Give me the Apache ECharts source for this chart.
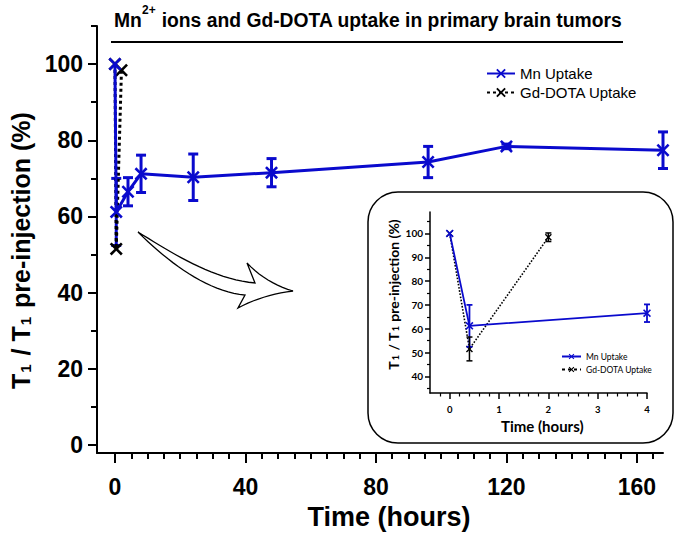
<!DOCTYPE html>
<html><head><meta charset="utf-8">
<script src="https://cdn.jsdelivr.net/npm/echarts@6/dist/echarts.min.js"></script>
<style>html,body{margin:0;padding:0;background:#fff}#c{width:675px;height:535px}</style>
</head><body><div id="c"></div>
<script>
// ---- data ----
const mnTime  = [0, 0.4, 4, 8, 24, 48, 96, 120, 168];
const mnValue = [100, 61.2, 66.5, 71.2, 70.3, 71.5, 74.3, 78.4, 77.4];
const mnError = [0, 8.8, 3.7, 4.9, 6.1, 3.7, 4.1, 0.6, 4.8];
const gdTime  = [0, 0.4, 2];
const gdValue = [100, 51.5, 98.4];
const gdError = [0, 5.0, 1.8];
const insetMaxTime = 4;

const mainXTicks = [0, 40, 80, 120, 160];
const mainXMinor = [5,10,15,20,25,30,35,45,50,55,60,65,70,75,85,90,95,100,105,110,115,125,130,135,140,145,150,155,165];
const mainYTicks = [0, 20, 40, 60, 80, 100];
const mainYMinor = [10, 30, 50, 70, 90, 110];
const insetXTicks = [0, 1, 2, 3, 4];
const insetXMinor = [-0.2,0.2,0.4,0.6,0.8,1.2,1.4,1.6,1.8,2.2,2.4,2.6,2.8,3.2,3.4,3.6,3.8];
const insetYTicks = [40, 50, 60, 70, 80, 90, 100];
const insetYMinor = [35, 45, 55, 65, 75, 85, 95, 105];

const BLUE = '#0a0acd';
const BLACK = '#000';
const XSYM = 'path://M0,1.4 L1.4,0 L5,3.6 L8.6,0 L10,1.4 L6.4,5 L10,8.6 L8.6,10 L5,6.4 L1.4,10 L0,8.6 L3.6,5 Z';
const ARIAL = '"Liberation Sans", Arial, sans-serif';
const LATO = 'Lato, "Open Sans", sans-serif';

function pts(t, v, maxT) {
  const out = [];
  for (let i = 0; i < t.length; i++) if (maxT === undefined || t[i] <= maxT) out.push([t[i], v[i]]);
  return out;
}
function errs(t, v, e, maxT) {
  const out = [];
  for (let i = 0; i < t.length; i++) {
    if (e[i] > 0 && (maxT === undefined || t[i] <= maxT)) out.push([t[i], v[i] - e[i], v[i] + e[i]]);
  }
  return out;
}
function errRender(color, lw, cap) {
  return function (params, api) {
    const x = api.value(0), lo = api.value(1), hi = api.value(2);
    const a = api.coord([x, lo]), b = api.coord([x, hi]);
    const st = { stroke: color, lineWidth: lw };
    return { type: 'group', children: [
      { type: 'line', shape: { x1: a[0], y1: a[1], x2: b[0], y2: b[1] }, style: st },
      { type: 'line', shape: { x1: a[0] - cap, y1: a[1], x2: a[0] + cap, y2: a[1] }, style: st },
      { type: 'line', shape: { x1: b[0] - cap, y1: b[1], x2: b[0] + cap, y2: b[1] }, style: st }
    ]};
  };
}
// decorative arrow outline (sampled bezier curves)
function bez(p0, c1, c2, p3, n, out) {
  for (let i = 0; i <= n; i++) {
    const t = i / n, u = 1 - t;
    out.push([u*u*u*p0[0] + 3*u*u*t*c1[0] + 3*u*t*t*c2[0] + t*t*t*p3[0],
              u*u*u*p0[1] + 3*u*u*t*c1[1] + 3*u*t*t*c2[1] + t*t*t*p3[1]]);
  }
}
function quad(p0, c, p2, n, out) {
  for (let i = 0; i <= n; i++) {
    const t = i / n, u = 1 - t;
    out.push([u*u*p0[0] + 2*u*t*c[0] + t*t*p2[0], u*u*p0[1] + 2*u*t*c[1] + t*t*p2[1]]);
  }
}
const arrowPts = [];
bez([138,232],[172,253],[212,279],[255,283], 20, arrowPts);
arrowPts.push([247,263]);
quad([247,263],[266,283],[293,291], 10, arrowPts);
quad([293,291],[262,295],[238,308], 10, arrowPts);
arrowPts.push([245,295]);
bez([245,295],[208,292],[168,262],[139,233], 20, arrowPts);

const chart = echarts.init(document.getElementById('c'), null, { renderer: 'svg' });

const axBase = { type: 'value', splitLine: { show: false } };
const titleFont = { fontFamily: ARIAL, fontWeight: 'bold', fill: '#000' };

const option = {
  backgroundColor: '#fff',
  animation: false,
  grid: [
    { left: 97, top: 26, width: 566, height: 430 },
    { left: 430, top: 212, width: 217, height: 181 }
  ],
  legend: [
    {
      data: ['Mn Uptake', 'Gd-DOTA Uptake'],
      orient: 'vertical', left: 481, top: 61,
      itemWidth: 28, itemHeight: 12, itemGap: 4,
      textStyle: { fontFamily: ARIAL, fontSize: 15, color: '#000' }
    },
    {
      data: ['Mn Uptake', 'Gd-DOTA Uptake'],
      orient: 'vertical', left: 556, top: 347,
      itemWidth: 19, itemHeight: 7, itemGap: 4,
      textStyle: { fontFamily: LATO, fontSize: 8.5, color: '#000' }
    }
  ],
  xAxis: [
    Object.assign({}, axBase, {
      gridIndex: 0, min: -5.5, max: 168,
      name: 'Time (hours)', nameLocation: 'middle', nameGap: 49,
      nameTextStyle: { fontFamily: ARIAL, fontWeight: 'bold', fontSize: 27, color: '#000', padding: [0, 0, 0, 18] },
      axisLine: { onZero: false, lineStyle: { color: '#000', width: 2 } },
      axisTick: { show: true, customValues: mainXTicks, length: 10, lineStyle: { color: '#000', width: 2 } },
      axisLabel: { customValues: mainXTicks, margin: 22, fontFamily: ARIAL, fontWeight: 'bold', fontSize: 23, color: '#000' }
    }),
    Object.assign({}, axBase, {
      gridIndex: 0, min: -5.5, max: 168, position: 'bottom',
      axisLine: { show: false, onZero: false },
      axisTick: { show: true, customValues: mainXMinor, length: 6, lineStyle: { color: '#000', width: 2 } },
      axisLabel: { show: false }
    }),
    Object.assign({}, axBase, {
      gridIndex: 1, min: -0.4, max: 4.0,
      axisLine: { onZero: false, lineStyle: { color: '#000', width: 1.5 } },
      axisTick: { show: true, customValues: insetXTicks, length: 6, lineStyle: { color: '#000', width: 1.5 } },
      axisLabel: { customValues: insetXTicks, margin: 11, fontFamily: LATO, fontWeight: 'bold', fontSize: 9.5, color: '#000' }
    }),
    Object.assign({}, axBase, {
      gridIndex: 1, min: -0.4, max: 4.0, position: 'bottom',
      axisLine: { show: false, onZero: false },
      axisTick: { show: true, customValues: insetXMinor, length: 3.5, lineStyle: { color: '#000', width: 1.2 } },
      axisLabel: { show: false }
    })
  ],
  yAxis: [
    Object.assign({}, axBase, {
      gridIndex: 0, min: -2.1, max: 110,
      name: 'T{s|1} / T{s|1} pre-injection (%)', nameLocation: 'middle', nameGap: 64, nameRotate: 90,
      nameTextStyle: {
        fontFamily: ARIAL, fontWeight: 'bold', fontSize: 25, color: '#000', padding: [0, 22, 0, 0],
        rich: { s: { fontFamily: ARIAL, fontWeight: 'bold', fontSize: 15, color: '#000', verticalAlign: 'bottom', lineHeight: 15, padding: [0, 2, 0, 1] } }
      },
      axisLine: { onZero: false, lineStyle: { color: '#000', width: 2 } },
      axisTick: { show: true, customValues: mainYTicks, length: 9, lineStyle: { color: '#000', width: 2 } },
      axisLabel: { customValues: mainYTicks, margin: 14, fontFamily: ARIAL, fontWeight: 'bold', fontSize: 23, color: '#000' }
    }),
    Object.assign({}, axBase, {
      gridIndex: 0, min: -2.1, max: 110, position: 'left',
      axisLine: { show: false, onZero: false },
      axisTick: { show: true, customValues: mainYMinor, length: 6, lineStyle: { color: '#000', width: 2 } },
      axisLabel: { show: false }
    }),
    Object.assign({}, axBase, {
      gridIndex: 1, min: 33, max: 109,
      name: 'T{s|1} / T{s|1} pre-injection (%)', nameLocation: 'middle', nameGap: 30, nameRotate: 90,
      nameTextStyle: {
        fontFamily: LATO, fontWeight: 'bold', fontSize: 14, color: '#000', padding: [0, 0, 0, 16],
        rich: { s: { fontFamily: LATO, fontWeight: 'bold', fontSize: 9, color: '#000', verticalAlign: 'bottom', lineHeight: 9, padding: [0, 1, 0, 1] } }
      },
      axisLine: { onZero: false, lineStyle: { color: '#000', width: 1.5 } },
      axisTick: { show: true, customValues: insetYTicks, length: 5, lineStyle: { color: '#000', width: 1.5 } },
      axisLabel: { customValues: insetYTicks, margin: 7, fontFamily: LATO, fontWeight: 'bold', fontSize: 10, color: '#000' }
    }),
    Object.assign({}, axBase, {
      gridIndex: 1, min: 33, max: 109, position: 'left',
      axisLine: { show: false, onZero: false },
      axisTick: { show: true, customValues: insetYMinor, length: 3, lineStyle: { color: '#000', width: 1.2 } },
      axisLabel: { show: false }
    })
  ],
  graphic: [
    { type: 'group', x: 114, y: 0, scaleX: 0.92, children: [
      { type: 'text', x: 0, y: 30, style: Object.assign({ text: 'Mn', fontSize: 21, verticalAlign: 'bottom' }, titleFont) },
      { type: 'text', x: 30.5, y: 3, style: Object.assign({ text: '2+', fontSize: 13, verticalAlign: 'top' }, titleFont) },
      { type: 'text', x: 46, y: 30, style: Object.assign({ text: ' ions and Gd-DOTA uptake in primary brain tumors', fontSize: 21, verticalAlign: 'bottom' }, titleFont) }
    ]},
    { type: 'line', shape: { x1: 111, y1: 42, x2: 623, y2: 42 }, style: { stroke: '#000', lineWidth: 2 } },
    { type: 'rect', shape: { x: 368, y: 192, width: 305, height: 251, r: 30 }, style: { fill: 'none', stroke: '#000', lineWidth: 1.5 }, z: -1 },
    { type: 'polygon', shape: { points: arrowPts }, style: { fill: '#fff', stroke: '#000', lineWidth: 1.3 } },
    { type: 'text', x: 501, y: 418, style: { text: 'Time (hours)', fontFamily: LATO, fontWeight: 'bold', fontSize: 15, fill: '#000' } }
  ],
  series: [
    {
      name: 'Mn error', type: 'custom', xAxisIndex: 0, yAxisIndex: 0, clip: false, z: 3,
      renderItem: errRender(BLUE, 3, 5), encode: { x: 0, y: [1, 2] },
      data: errs(mnTime, mnValue, mnError)
    },
    {
      name: 'Gd-DOTA Uptake', type: 'line', xAxisIndex: 0, yAxisIndex: 0, z: 4,
      data: pts(gdTime, gdValue),
      symbol: XSYM, symbolSize: 13,
      lineStyle: { color: BLACK, width: 3, type: [3, 3] },
      itemStyle: { color: BLACK }
    },
    {
      name: 'Mn Uptake', type: 'line', xAxisIndex: 0, yAxisIndex: 0, z: 5,
      data: pts(mnTime, mnValue),
      symbol: XSYM, symbolSize: 13,
      lineStyle: { color: BLUE, width: 3 },
      itemStyle: { color: BLUE }
    },
    {
      name: 'Mn Uptake', type: 'line', xAxisIndex: 2, yAxisIndex: 2, z: 5,
      data: pts(mnTime, mnValue, insetMaxTime),
      symbol: XSYM, symbolSize: 8,
      lineStyle: { color: BLUE, width: 1.8 },
      itemStyle: { color: BLUE }
    },
    {
      name: 'Gd-DOTA Uptake', type: 'line', xAxisIndex: 2, yAxisIndex: 2, z: 4,
      data: pts(gdTime, gdValue, insetMaxTime),
      symbol: XSYM, symbolSize: 7,
      lineStyle: { color: BLACK, width: 1.6, type: [1.6, 1.6] },
      itemStyle: { color: BLACK }
    },
    {
      name: 'Mn error inset', type: 'custom', xAxisIndex: 2, yAxisIndex: 2, clip: false, z: 6,
      renderItem: errRender(BLUE, 1.8, 3), encode: { x: 0, y: [1, 2] },
      data: errs(mnTime, mnValue, mnError, insetMaxTime)
    },
    {
      name: 'Gd error inset', type: 'custom', xAxisIndex: 2, yAxisIndex: 2, clip: false, z: 6,
      renderItem: errRender(BLACK, 1.5, 3), encode: { x: 0, y: [1, 2] },
      data: errs(gdTime, gdValue, gdError, insetMaxTime)
    }
  ]
};
chart.setOption(option);
</script>
</body></html>
